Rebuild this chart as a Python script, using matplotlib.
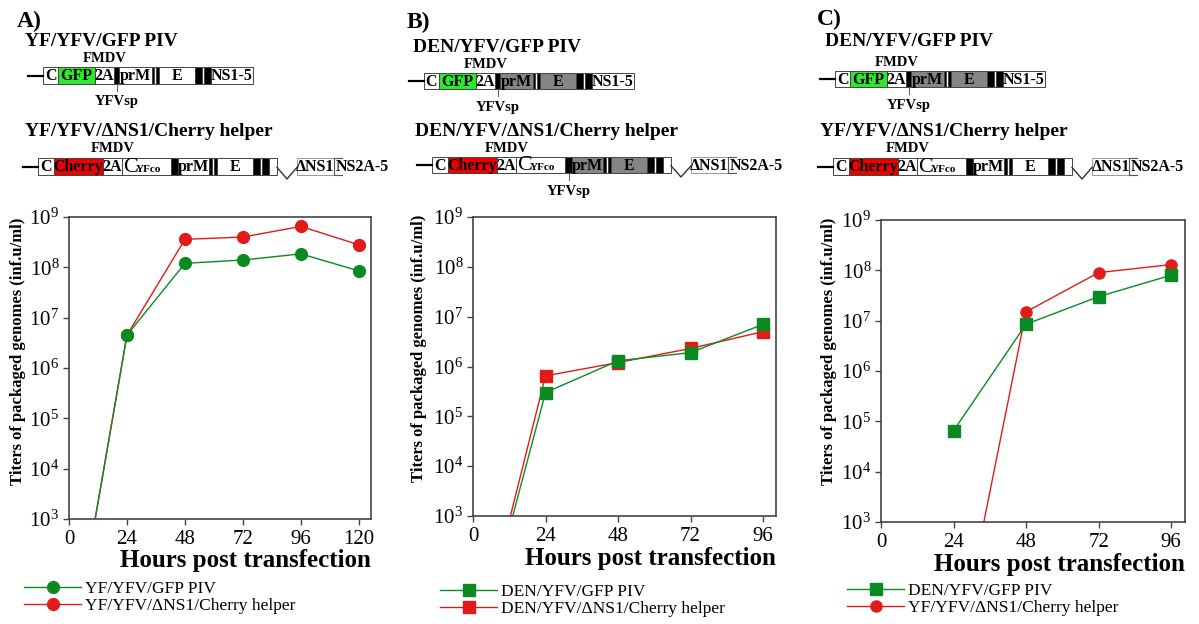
import matplotlib
matplotlib.use("Agg")
import matplotlib.pyplot as plt
from matplotlib.patches import Rectangle
from matplotlib.ticker import NullLocator

plt.rcParams['font.family'] = ['Liberation Serif', 'DejaVu Serif']
plt.rcParams['mathtext.fontset'] = 'custom'
plt.rcParams['mathtext.rm'] = 'Liberation Serif'
plt.rcParams['mathtext.bf'] = 'Liberation Serif:bold'

# -----------------------------
# Data (titers, inf.u/ml)
# -----------------------------
a_hours = [0, 24, 48, 72, 96, 120]
a_gfp = [1, 4.5e6, 1.2e8, 1.4e8, 1.85e8, 8.5e7]
a_cherry = [1, 4.5e6, 3.6e8, 4.0e8, 6.5e8, 2.8e8]

b_hours = [0, 24, 48, 72, 96]
b_gfp = [1, 3.0e5, 1.3e6, 1.9e6, 7.0e6]
b_cherry = [1, 6.5e5, 1.2e6, 2.3e6, 5.0e6]

c_hours = [24, 48, 72, 96]
c_gfp = [6.5e4, 8.5e6, 3.0e7, 8.0e7]
c_cherry = [1, 1.5e7, 9.0e7, 1.3e8]

a_ticks = [0, 24, 48, 72, 96, 120]
bc_ticks = [0, 24, 48, 72, 96]

a_labels = ['YF/YFV/GFP PIV', 'YF/YFV/\u0394NS1/Cherry helper']
b_labels = ['DEN/YFV/GFP PIV', 'DEN/YFV/\u0394NS1/Cherry helper']
c_labels = ['DEN/YFV/GFP PIV', 'YF/YFV/\u0394NS1/Cherry helper']

GREEN = '#0b8a22'
RED = '#e31a1a'
GFP_GREEN = '#2ee82e'
CHERRY = '#ee0000'
GRAY = '#858585'

fig = plt.figure(figsize=(11.99, 6.24), dpi=100)

# overlay in pixel coords for the construct drawings and labels
bg = fig.add_axes([0, 0, 1, 1])
bg.set_xlim(0, 1199)
bg.set_ylim(624, 0)
bg.axis('off')


def px_axes(l, t, r, b):
    return fig.add_axes([l / 1199, 1 - b / 624, (r - l) / 1199, (b - t) / 624])


# -----------------------------
# Construct schematics
# -----------------------------
def piv_parts(g):
    return [('c', 'C', 15, 'white'), ('gfp', 'GFP', 37, GFP_GREEN), ('2a', '2A', 19, 'white'),
            ('sp', '', 5, 'black'), ('prm', 'prM', 33, g),
            ('b', '', 2, 'black'), ('w', '', 2, 'white'), ('b', '', 3, 'black'),
            ('e', 'E', 36, g), ('b', '', 7, 'black'), ('w', '', 2, 'white'), ('b', '', 7, 'black'),
            ('ns', 'NS1-5', 42, 'white')]


def helper_parts(g):
    return [('c', 'C', 16, 'white'), ('ch', 'Cherry', 49, CHERRY), ('2a', '2A', 19, 'white'),
            ('cyf', '', 49, 'white'), ('sp', '', 7, 'black'), ('prm', 'prM', 31, g),
            ('b', '', 3, 'black'), ('w', '', 2, 'white'), ('b', '', 3, 'black'),
            ('e', 'E', 36, g), ('b', '', 7, 'black'), ('w', '', 2, 'white'), ('b', '', 7, 'black'),
            ('w', '', 8, 'white'), ('zig', '', 20, None), ('dns', '\u0394NS1', 37, 'white'),
            ('tail', 'NS2A-5', 8, None)]


def construct(x0, y, parts, sp_label=False, h=17, lead=15):
    bg.plot([x0 - lead, x0], [y + h / 2] * 2, color='black', lw=1.6)
    x = x0
    for key, label, w, fc in parts:
        if key == 'zig':
            bg.plot([x, x + w / 2, x + w], [y + h * 0.55, y + h + 4, y + h * 0.55], color='#333', lw=1)
        elif key == 'tail':
            bg.plot([x + w, x, x, x + w], [y, y, y + h, y + h], color='#555', lw=0.8)
            bg.text(x + 2, y + h / 2 + 0.5, label, ha='left', va='center', fontsize=11.5, fontweight='bold')
        else:
            ec = '#999' if key == 'dns' else '#444'
            bg.add_patch(Rectangle((x, y), w, h, facecolor=fc, edgecolor=ec, lw=0.7))
            if key == 'cyf':
                bg.text(x + 1, y + h / 2 + 0.5, 'C', ha='left', va='center', fontsize=16)
                bg.text(x + 14, y + h / 2 + 3, 'YFco', ha='left', va='center', fontsize=8, fontweight='bold')
            elif label:
                bg.text(x + w / 2, y + h / 2 + 0.5, label, ha='center', va='center',
                        fontsize=11.5, fontweight='bold')
        if key == '2a':
            bg.text(x + w / 2, y - 9, 'FMDV', ha='center', va='center', fontsize=10.5, fontweight='bold')
        if key == 'sp' and sp_label:
            bg.plot([x + w / 2] * 2, [y + h, y + h + 7], color='#666', lw=0.8)
            bg.text(x + w / 2, y + h + 18, 'YFVsp', ha='center', va='center', fontsize=10.5, fontweight='bold')
        x += w


TITLE = dict(ha='left', va='center', fontsize=14, fontweight='bold')
LETTER = dict(ha='left', va='center', fontsize=17, fontweight='bold')

# Panel A
bg.text(17, 21, 'A)', **LETTER)
bg.text(25, 41, 'YF/YFV/GFP PIV', **TITLE)
construct(43, 67, piv_parts('white'), sp_label=True)
bg.text(25, 131, 'YF/YFV/\u0394NS1/Cherry helper', **TITLE)
construct(38, 158, helper_parts('white'))

# Panel B
bg.text(407, 22, 'B)', **LETTER)
bg.text(413, 48, 'DEN/YFV/GFP PIV', **TITLE)
construct(424, 73, piv_parts(GRAY), sp_label=True, h=16)
bg.text(415, 131, 'DEN/YFV/\u0394NS1/Cherry helper', **TITLE)
construct(432, 157, helper_parts(GRAY), sp_label=True, h=16)

# Panel C
bg.text(817, 19, 'C)', **LETTER)
bg.text(825, 41, 'DEN/YFV/GFP PIV', **TITLE)
construct(835, 71, piv_parts(GRAY), sp_label=True, h=16)
bg.text(820, 131, 'YF/YFV/\u0394NS1/Cherry helper', **TITLE)
construct(833, 158, helper_parts('white'))


# -----------------------------
# Titer plots
# -----------------------------
def panel(ax, hg, gfp, hr, cherry, mk_g, mk_r, ms, xmax, xticks):
    red, = ax.plot(hr, cherry, color=RED, marker=mk_r, ms=ms, mec=RED, lw=1, zorder=2)
    green, = ax.plot(hg, gfp, color=GREEN, marker=mk_g, ms=ms, mec=GREEN, lw=1, zorder=3)
    ax.set_yscale('log')
    ax.set_ylim(1e3, 1e9)
    ax.set_xlim(0, xmax)
    ax.set_xticks(xticks)
    ax.yaxis.set_minor_locator(NullLocator())
    ax.tick_params(direction='out', length=4, width=1, color='#444', labelsize=15, pad=3)
    ax.tick_params(axis='x', pad=4)
    for s in ax.spines.values():
        s.set_color('#444')
        s.set_linewidth(1.2)
    return green, red


axA = px_axes(69, 217, 371, 519)
gA, rA = panel(axA, a_hours, a_gfp, a_hours, a_cherry, 'o', 'o', 8.5, 125, a_ticks)
axB = px_axes(473, 217, 776, 516)
gB, rB = panel(axB, b_hours, b_gfp, b_hours, b_cherry, 's', 's', 8, 100.3, bc_ticks)
axC = px_axes(881, 220, 1185, 522)
gC, rC = panel(axC, c_hours, c_gfp, c_hours, c_cherry, 's', 'o', 8, 100.6, bc_ticks)

ylab = 'Titers of packaged genomes (inf.u/ml)'
for x, y in [(18, 218), (419, 215), (829, 218)]:
    bg.text(x, y, ylab, rotation=90, ha='center', va='top', fontsize=12, fontweight='bold')

for x, y in [(371, 560), (776, 558), (1185, 565)]:
    bg.text(x, y, 'Hours post transfection', ha='right', va='center', fontsize=18, fontweight='bold')

for ax, hs, labels, x, y in [(axA, (gA, rA), a_labels, 24, 581),
                             (axB, (gB, rB), b_labels, 440, 584),
                             (axC, (gC, rC), c_labels, 847, 583)]:
    ax.legend(hs, labels, loc='upper left', bbox_to_anchor=(x / 1199, 1 - y / 624),
              bbox_transform=fig.transFigure, frameon=False, fontsize=12.5,
              handlelength=3.3, handletextpad=0.2, labelspacing=0.05,
              borderpad=0, borderaxespad=0)

fig.savefig('out.png', dpi=100)
